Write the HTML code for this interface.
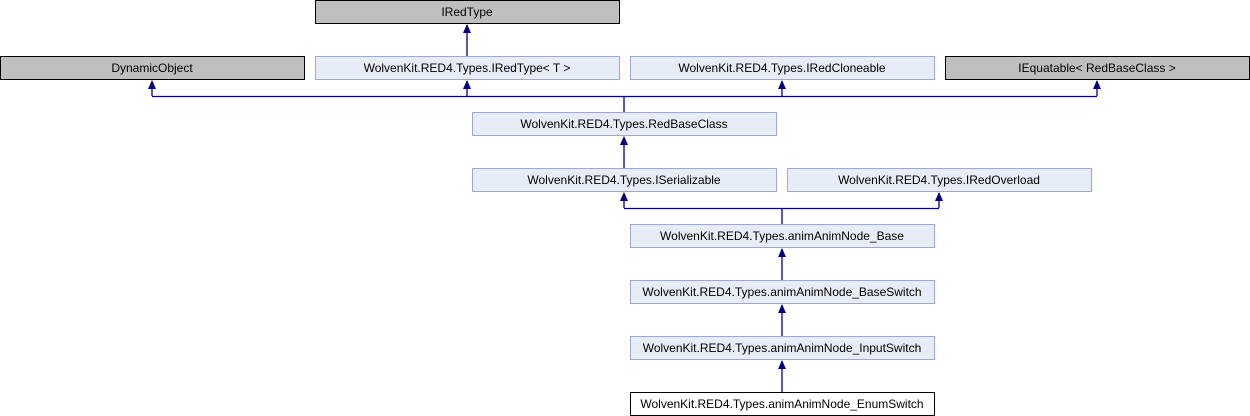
<!DOCTYPE html>
<html><head><meta charset="utf-8"><style>
html,body{margin:0;padding:0;background:#fff;}
svg{display:block;}
text{font-family:"Liberation Sans",sans-serif;font-size:12px;fill:#000;}
</style></head><body>
<svg width="1250" height="416" viewBox="0 0 1250 416" xmlns="http://www.w3.org/2000/svg">
<defs>
<marker id="a" markerWidth="8" markerHeight="9" refX="4" refY="0" orient="0" markerUnits="userSpaceOnUse">
<path d="M0,9 L4,0 L8,9 Z" fill="#000080"/>
</marker>
</defs>
<g stroke="#000080" stroke-width="1.3" fill="none">
<!-- IRedType<T> -> IRedType -->
<line x1="467" y1="56" x2="467" y2="25"/>
<!-- bus row2 -->
<line x1="152" y1="96.5" x2="1097" y2="96.5"/>
<line x1="152" y1="96" x2="152" y2="81"/>
<line x1="467" y1="96" x2="467" y2="81"/>
<line x1="782" y1="96" x2="782" y2="81"/>
<line x1="1097" y1="96" x2="1097" y2="81"/>
<line x1="624" y1="96" x2="624" y2="112"/>
<line x1="624" y1="168" x2="624" y2="137"/>
<line x1="624" y1="208.5" x2="939" y2="208.5"/>
<line x1="624" y1="208" x2="624" y2="193"/>
<line x1="939" y1="208" x2="939" y2="193"/>
<line x1="782" y1="208" x2="782" y2="224"/>
<line x1="782" y1="280" x2="782" y2="249"/>
<line x1="782" y1="336" x2="782" y2="305"/>
<line x1="782" y1="392" x2="782" y2="361"/>
</g>
<g fill="#000080">
<path d="M463,33 L467,24 L471,33 Z"/>
<path d="M148,89 L152,80 L156,89 Z"/>
<path d="M463,89 L467,80 L471,89 Z"/>
<path d="M778,89 L782,80 L786,89 Z"/>
<path d="M1093,89 L1097,80 L1101,89 Z"/>
<path d="M620,145 L624,136 L628,145 Z"/>
<path d="M620,201 L624,192 L628,201 Z"/>
<path d="M935,201 L939,192 L943,201 Z"/>
<path d="M778,257 L782,248 L786,257 Z"/>
<path d="M778,313 L782,304 L786,313 Z"/>
<path d="M778,369 L782,360 L786,369 Z"/>
</g>
<g stroke-width="1">
<rect x="315.5" y="0.5" width="304" height="23" fill="#bfbfbf" stroke="#000"/>
<rect x="0.5" y="56.5" width="304" height="23" fill="#bfbfbf" stroke="#000"/>
<rect x="315.5" y="56.5" width="304" height="23" fill="#e8ecf6" stroke="#9aa9d3"/>
<rect x="630.5" y="56.5" width="304" height="23" fill="#e8ecf6" stroke="#9aa9d3"/>
<rect x="945.5" y="56.5" width="304" height="23" fill="#bfbfbf" stroke="#000"/>
<rect x="472.5" y="112.5" width="304" height="23" fill="#e8ecf6" stroke="#9aa9d3"/>
<rect x="472.5" y="168.5" width="304" height="23" fill="#e8ecf6" stroke="#9aa9d3"/>
<rect x="787.5" y="168.5" width="304" height="23" fill="#e8ecf6" stroke="#9aa9d3"/>
<rect x="630.5" y="224.5" width="304" height="23" fill="#e8ecf6" stroke="#9aa9d3"/>
<rect x="630.5" y="280.5" width="304" height="23" fill="#e8ecf6" stroke="#9aa9d3"/>
<rect x="630.5" y="336.5" width="304" height="23" fill="#e8ecf6" stroke="#9aa9d3"/>
<rect x="630.5" y="392.5" width="304" height="23" fill="#fff" stroke="#000"/>
</g>
<g text-anchor="middle">
<text x="467" y="16">IRedType</text>
<text x="152" y="72">DynamicObject</text>
<text x="467" y="72">WolvenKit.RED4.Types.IRedType&lt; T &gt;</text>
<text x="782" y="72">WolvenKit.RED4.Types.IRedCloneable</text>
<text x="1097" y="72">IEquatable&lt; RedBaseClass &gt;</text>
<text x="624" y="128">WolvenKit.RED4.Types.RedBaseClass</text>
<text x="624" y="184">WolvenKit.RED4.Types.ISerializable</text>
<text x="939" y="184">WolvenKit.RED4.Types.IRedOverload</text>
<text x="782" y="240">WolvenKit.RED4.Types.animAnimNode_Base</text>
<text x="782" y="296">WolvenKit.RED4.Types.animAnimNode_BaseSwitch</text>
<text x="782" y="352">WolvenKit.RED4.Types.animAnimNode_InputSwitch</text>
<text x="782" y="408">WolvenKit.RED4.Types.animAnimNode_EnumSwitch</text>
</g>
</svg>
</body></html>
